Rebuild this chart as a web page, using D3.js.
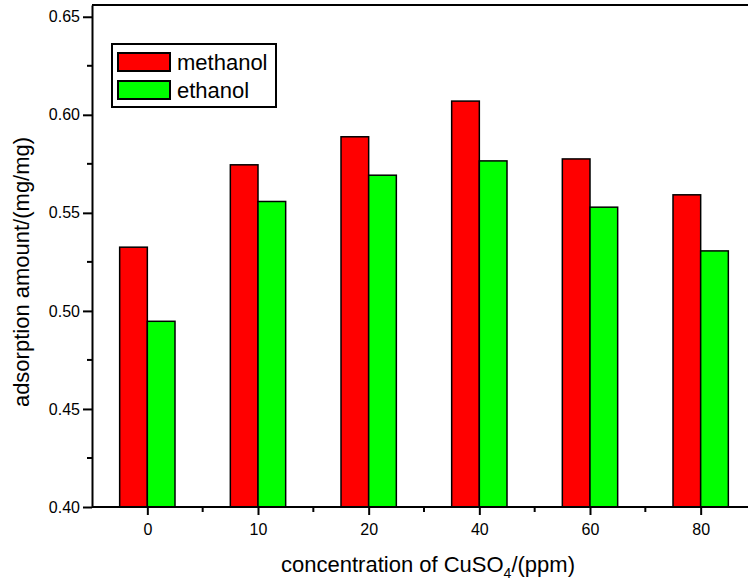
<!DOCTYPE html>
<html>
<head>
<meta charset="utf-8">
<script src="https://cdn.jsdelivr.net/npm/d3@7"></script>
<style>
  body { margin: 0; background: #fff; }
  svg { font-family: Arial, "Liberation Sans", sans-serif; }
  .axis path, .axis line { stroke: #000; stroke-width: 2; }
  .axis text { font-family: Arial, "Liberation Sans", sans-serif; font-size: 16px; fill: #000; }
</style>
</head>
<body>
<svg id="chart" width="748" height="580"></svg>
<script>
// data
var categories = ['0', '10', '20', '40', '60', '80'];
var series = ['methanol', 'ethanol'];
var methanol = [0.5325, 0.5745, 0.5888, 0.607, 0.5775, 0.5592];
var ethanol = [0.4947, 0.5558, 0.5692, 0.5765, 0.5529, 0.5306];
var yTicks = [0.40, 0.45, 0.50, 0.55, 0.60, 0.65];
var yMinor = [0.425, 0.475, 0.525, 0.575, 0.625];
var colors = { methanol: '#ff0000', ethanol: '#00ff00' };

var svg = d3.select('#chart');
var plotLeft = 92, plotRight = 756, plotTop = 5, plotBottom = 507;

var x0 = d3.scaleBand()
    .domain(categories)
    .range([plotLeft, plotRight])
    .paddingInner(0.5)
    .paddingOuter(0.25);
var x1 = d3.scaleBand()
    .domain(series)
    .range([0, x0.bandwidth()]);
var y = d3.scaleLinear()
    .domain([0.40, 0.656])
    .range([plotBottom, plotTop]);

var rows = categories.map(function (c, i) {
    return { cat: c, methanol: methanol[i], ethanol: ethanol[i] };
});

// bars
var groups = svg.append('g').selectAll('g')
    .data(rows).enter()
    .append('g')
    .attr('transform', function (d) { return 'translate(' + x0(d.cat) + ',0)'; });
groups.selectAll('rect')
    .data(function (d) { return series.map(function (s) { return { key: s, value: d[s] }; }); })
    .enter().append('rect')
    .attr('x', function (d) { return x1(d.key); })
    .attr('y', function (d) { return y(d.value); })
    .attr('width', x1.bandwidth())
    .attr('height', function (d) { return plotBottom - y(d.value); })
    .attr('fill', function (d) { return colors[d.key]; })
    .attr('stroke', '#000')
    .attr('stroke-width', 1.5);

// top frame
svg.append('line')
    .attr('x1', plotLeft).attr('x2', 748)
    .attr('y1', plotTop).attr('y2', plotTop)
    .attr('stroke', '#000').attr('stroke-width', 2);

// y axis
svg.append('g')
    .attr('class', 'axis')
    .attr('transform', 'translate(' + plotLeft + ',0)')
    .call(d3.axisLeft(y).tickValues(yTicks).tickFormat(d3.format('.2f')).tickSize(9).tickSizeOuter(0).tickPadding(3));
svg.append('g').selectAll('line')
    .data(yMinor).enter().append('line')
    .attr('x1', plotLeft - 5).attr('x2', plotLeft)
    .attr('y1', function (d) { return y(d); })
    .attr('y2', function (d) { return y(d); })
    .attr('stroke', '#000').attr('stroke-width', 2);

// x axis
var xCenter = function (c) { return x0(c) + x0.bandwidth() / 2; };
var xAxisScale = d3.scalePoint().domain(categories)
    .range([xCenter(categories[0]), xCenter(categories[categories.length - 1])]);
var xg = svg.append('g')
    .attr('class', 'axis')
    .attr('transform', 'translate(0,' + plotBottom + ')')
    .call(d3.axisBottom(xAxisScale).tickSize(8).tickSizeOuter(0).tickPadding(9));
xg.select('.domain').attr('d', 'M' + plotLeft + ',0H748');
svg.append('g').selectAll('line')
    .data(categories.slice(0, -1)).enter().append('line')
    .attr('x1', function (d) { return xCenter(d) + x0.step() / 2; })
    .attr('x2', function (d) { return xCenter(d) + x0.step() / 2; })
    .attr('y1', plotBottom).attr('y2', plotBottom + 5)
    .attr('stroke', '#000').attr('stroke-width', 2);

// axis titles
var xt = svg.append('text')
    .attr('x', (plotLeft + plotRight) / 2 + 4)
    .attr('y', 572)
    .attr('text-anchor', 'middle')
    .style('font-size', '22px');
xt.append('tspan').text('concentration of CuSO');
xt.append('tspan').attr('dy', 6).style('font-size', '14px').text('4');
xt.append('tspan').attr('dy', -6).text('/(ppm)');

svg.append('text')
    .attr('transform', 'translate(29,272) rotate(-90)')
    .attr('text-anchor', 'middle')
    .style('font-size', '22px')
    .text('adsorption amount/(mg/mg)');

// legend
var legend = svg.append('g');
legend.append('rect')
    .attr('x', 112).attr('y', 44)
    .attr('width', 164).attr('height', 63)
    .attr('fill', '#fff').attr('stroke', '#000').attr('stroke-width', 2);
var items = legend.selectAll('g.item')
    .data(series).enter().append('g')
    .attr('class', 'item')
    .attr('transform', function (d, i) { return 'translate(118,' + (53 + i * 28) + ')'; });
items.append('rect')
    .attr('width', 52).attr('height', 18)
    .attr('fill', function (d) { return colors[d]; })
    .attr('stroke', '#000').attr('stroke-width', 2);
items.append('text')
    .attr('x', 59).attr('y', 17)
    .style('font-size', '22px')
    .text(function (d) { return d; });
</script>
</body>
</html>
